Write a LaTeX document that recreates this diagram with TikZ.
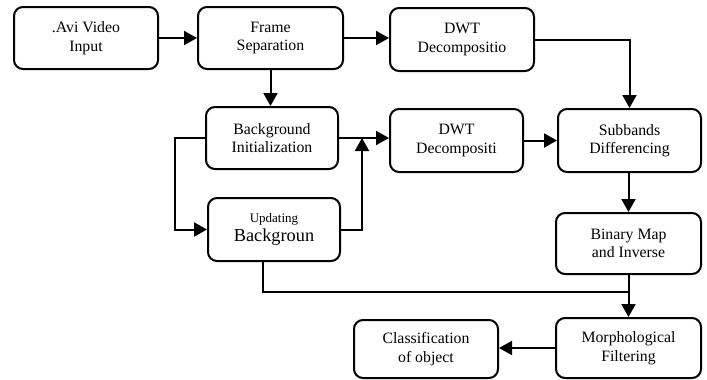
\documentclass[tikz,border=0pt]{standalone}
\usepackage{fontspec}
\setmainfont{Liberation Serif}
\usetikzlibrary{arrows.meta,calc}
\tikzset{
  box/.style={draw, line width=2pt, rounded corners=9pt, align=center, inner sep=0pt,
    font=\fontsize{15.8}{18.5}\selectfont},
  arr/.style={line width=2pt, -{Triangle[length=13pt,width=14pt]}},
  ln/.style={line width=2pt}
}
\begin{document}
\begin{tikzpicture}[x=1pt,y=-1pt]
\useasboundingbox (0,0) rectangle (707,380);
\node[box, minimum width=144pt, minimum height=62pt] (n1) at (86,38) {.Avi Video\\Input};
\node[box, minimum width=145pt, minimum height=62pt] (n2) at (270.5,38) {Frame\\Separation};
\node[box, minimum width=144pt, minimum height=63pt] (n3) at (462,39.5) {DWT\\Decompositio};
\node[box, minimum width=132pt, minimum height=62pt] (n4) at (272,138) {Background\\Initialization};
\node[box, minimum width=132pt, minimum height=63pt] (n5) at (274,229.5) {{\fontsize{13}{20}\selectfont Updating}\\{\fontsize{18.3}{20}\selectfont Backgroun}};
\node[box, minimum width=133pt, minimum height=63pt] (n6) at (456.5,140.5) {DWT\\Decompositi};
\node[box, minimum width=143pt, minimum height=63pt] (n7) at (629.5,140.5) {Subbands\\Differencing};
\node[box, minimum width=145pt, minimum height=61pt] (n8) at (628.5,243.5) {Binary Map\\and Inverse};
\node[box, minimum width=145pt, minimum height=60pt] (n9) at (628.5,348) {Morphological\\Filtering};
\node[box, minimum width=144pt, minimum height=58pt] (n10) at (426,349) {Classification\\of object};
\coordinate (lL) at (175,0);
\coordinate (lR) at (362,0);
\coordinate (j) at (628.5,292);
\draw[arr] (n1.east) -- (n1.east -| n2.west);
\draw[arr] (n2.east) -- (n2.east -| n3.west);
\draw[arr] (n2.south) -- (n2.south |- n4.north);
\draw[arr] (n3.east) -| (n7.north);
\draw[arr] (n4.east) -- (n4.east -| n6.west);
\draw[arr] (n4.west) -- (n4.west -| lL) |- (n5.west);
\draw[arr] (n5.east) -- (n5.east -| lR) -- (lR |- n4.east);
\draw[arr] (n6.east) -- (n6.east -| n7.west);
\draw[arr] ([xshift=-1pt]n7.south) -- ([xshift=-1pt]n7.south |- n8.north);
\draw[arr] (n8.south) -- (n9.north);
\draw[ln] ([xshift=-11pt]n5.south) |- (j);
\draw[arr] (n9.west) -- (n9.west -| n10.east);
\end{tikzpicture}
\end{document}
